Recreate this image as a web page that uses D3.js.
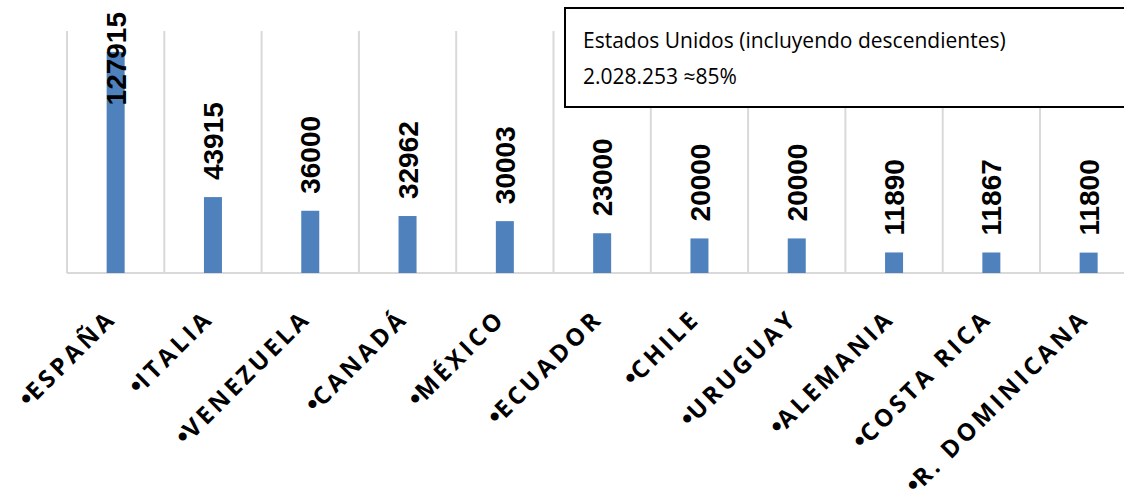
<!DOCTYPE html>
<meta charset="utf-8">
<title>Emigrantes</title>
<body>
<script src="https://cdn.jsdelivr.net/npm/d3@7"></script>
<style>
html, body {
    margin: 0;
    background: #fff;
}
svg {
    display: block;
}
</style>
<script>
var categories = ["ESPAÑA", "ITALIA", "VENEZUELA", "CANADÁ", "MÉXICO", "ECUADOR",
                  "CHILE", "URUGUAY", "ALEMANIA", "COSTA RICA", "R. DOMINICANA"];
var values = [127915, 43915, 36000, 32962, 30003, 23000, 20000, 20000, 11890, 11867, 11800];
var noteLines = ["Estados Unidos (incluyendo descendientes)", "2.028.253 ≈85%"];

var width = 1124,
    height = 499,
    margin = {top: 31, left: 67, bottom: 226};

var svg = d3.select("body").append("svg")
    .attr("width", width)
    .attr("height", height);

var x = d3.scaleBand()
    .domain(categories)
    .range([margin.left, margin.left + categories.length * 97.3]);

var y = d3.scaleLinear()
    .domain([0, 140000])
    .range([height - margin.bottom, margin.top]);

// vertical gridlines between categories
svg.append("g")
    .selectAll("line")
    .data(categories)
    .enter().append("line")
    .attr("x1", function(d) { return x(d); })
    .attr("x2", function(d) { return x(d); })
    .attr("y1", y.range()[1])
    .attr("y2", y.range()[0])
    .attr("stroke", "#d9d9d9")
    .attr("stroke-width", 2);

// axis line
svg.append("line")
    .attr("x1", x.range()[0])
    .attr("x2", x.range()[1])
    .attr("y1", y(0))
    .attr("y2", y(0))
    .attr("stroke", "#d9d9d9")
    .attr("stroke-width", 2);

var barWidth = 18;

svg.append("g")
    .selectAll("rect")
    .data(values)
    .enter().append("rect")
    .attr("x", function(d, i) { return x(categories[i]) + x.bandwidth() / 2 - barWidth / 2; })
    .attr("y", function(d) { return y(d); })
    .attr("width", barWidth)
    .attr("height", function(d) { return y(0) - y(d); })
    .attr("fill", "#4f81bd");

// value labels, rotated; pushed inside when they would overflow the top
svg.append("g")
    .selectAll("text")
    .data(values)
    .enter().append("text")
    .attr("font-family", "'Liberation Sans', Arial, sans-serif")
    .attr("font-weight", "bold")
    .attr("font-size", 28)
    .attr("fill", "#000")
    .attr("dy", "0.36em")
    .text(function(d) { return d; })
    .each(function(d, i) {
        var len = this.getComputedTextLength(),
            start = Math.max(y(d) - 17, 12 + len),
            cx = x(categories[i]) + x.bandwidth() / 2;
        d3.select(this).attr("transform", "translate(" + cx + "," + start + ")rotate(-90)");
    });

// category labels
var labels = svg.append("g")
    .selectAll("text")
    .data(categories)
    .enter().append("text")
    .attr("font-family", "'Open Sans', sans-serif")
    .attr("font-weight", "bold")
    .attr("font-size", 24)
    .attr("letter-spacing", 3.5)
    .attr("text-anchor", "end")
    .attr("transform", function(d) {
        return "translate(" + (x(d) + x.bandwidth() / 2 + 2) + "," + (y(0) + 47) + ")rotate(-45)";
    });

labels.append("tspan")
    .attr("font-family", "'Liberation Sans', sans-serif")
    .attr("font-size", 28)
    .attr("letter-spacing", 0)
    .text("\u2022");

labels.append("tspan")
    .text(function(d) { return d; });

// note box
var note = svg.append("g");

note.append("rect")
    .attr("x", 565)
    .attr("y", 8)
    .attr("width", 600)
    .attr("height", 99)
    .attr("fill", "#fff")
    .attr("stroke", "#000")
    .attr("stroke-width", 2);

note.selectAll("text")
    .data(noteLines)
    .enter().append("text")
    .attr("x", 583)
    .attr("y", function(d, i) { return 48 + i * 36; })
    .attr("font-family", "'Open Sans', sans-serif")
    .attr("font-size", 21)
    .attr("fill", "#000")
    .text(function(d) { return d; });
</script>
